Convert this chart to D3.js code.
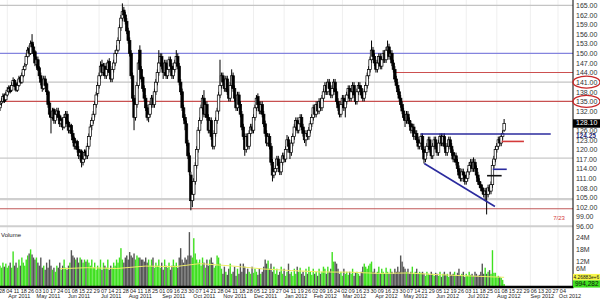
<!DOCTYPE html>
<html><head><meta charset="utf-8">
<script src="https://cdn.jsdelivr.net/npm/d3@7"></script>
<style>body{margin:0;background:#fff}svg{display:block}</style>
</head><body><svg id="c" width="600" height="299"></svg>
<script>
// ---------- DATA ----------
const startDate = "2011-03-25";
const holidays = ["2011-04-22","2011-05-30","2011-07-04","2011-09-05","2011-11-24","2011-12-26",
  "2012-01-02","2012-01-16","2012-02-20","2012-04-06","2012-05-28","2012-07-04","2012-09-03"];

const closes = [134,135,136.5,135,137,138.5,139,138,140,141.5,
140,138.5,140,142,141,143,145,146,149,151,
150,153,152,150,147,148,145,143,141,139,
142,140,138,134,131,130,132,129,131,132,
130,128,129,127,130,131,128,126,127,125,
123,121,122,120,118,119,116,117,119,118,
121,124,127,129,131,134,137,140,143,146,
144,146,143,145,147,144,142,145,147,150,
151,154,158,161,163,162,160,157,154,150,
143,136,130,134,140,147,145,142,139,136,
133,130,131,134,136,134,138,141,144,147,
149,146,144,147,143,145,148,146,143,145,
147,149,146,141,138,133,130,128,122,118,
113,104,106,110,115,120,126,129,133,136,
131,134,130,126,129,124,121,125,129,132,
137,140,143,141,139,142,138,136,140,143,
139,136,133,137,134,131,127,124,120,124,
121,125,127,126,130,133,136,134,132,134,
131,128,125,122,124,121,116,112,113,114,
117,115,113,116,118,117,120,123,121,119,
122,124,127,129,126,128,130,127,125,123,
125,124,126,128,130,133,131,134,132,135,
133,136,138,140,138,141,139,137,139,141,
138,135,133,131,134,136,133,135,137,139,
136,138,140,137,135,138,140,139,137,136,
138,140,143,145,148,151,149,147,145,147,
149,146,148,150,148,151,152,149,150,147,
145,142,140,138,136,134,132,130,129,131,
129,128,126,127,124,125,123,121,122,124,
120,117,119,121,123,120,118,121,123,121,
119,122,124,122,124,121,119,121,123,121,
119,117,118,116,114,112,111,113,112,110,
111,113,115,116,114,116,114,112,110,109,
108,107,106,107,106,108,107,109,115,117,
120,121,123,122,124,125,128.1];

const opens = [133,134.5,135,137,135.5,137,138,139.5,138.5,140,
141.5,140.5,138.5,140,142.5,141,143,145,146.5,149,
151.5,150,153.5,152,150.5,146.5,148,145.5,143,141.5,
139,142,140.5,138,134.5,131.5,130,132.5,129,131,
132,130.5,128,129.5,127,130,131,128.5,126,127.5,
125,123.5,121,122.5,120,118,119.5,116,117,119.5,
118,121,124,127.5,129,131,134,137.5,140,143,
146.5,144,146,143,145,147.5,144,142,145,147,
150,151,154,158,161,163.5,162,160,157,154,
150,143,136,130,134,140,151,145,142.5,139,
136,133,130,131,134,136,134,138,141,144,
147,149,146,144,147,143,145,148,146,143,
145,147,149,146,141,138,133,130,128,122,
118,112,104,106,110,115,120,126,129,133,
136,131,134,130,126,129,124,121,125,129,
132,137,140,143,141,139,142,138,136,140,
143,139,136,133,137,134,131,127,124,120,
124,121,125,127,126,130,133,136.5,134,132,
134,131,128,125,122,124,121,116,112,113,
114,117,115,113,116,118,117,120,123,121,
119,122,124,127,129,126,128,130,127,125,
123,125,124,126,128,130,133,131,134,132,
135,133,136,138,140,138,141,139,137,139,
141,138,135,133,131,134,136,133,135,137,
139,136,138,140,137,135,138,140,139,137,
136,138,140,143,145,148,151,149,147,145,
147,149,146,148,150,148,151,152,149,150,
147,145,142,140,138,136,134,132,130,129,
131,129,128,126,127,124,125,123,121,122,
124,120,117,119,121,123,120,118,121,123,
121,119,122,124,122,124,121,119,121,123,
121,119,117,118,116,114,112,111,113,112,
110,111,113,115,116,114,116,114,112,110,
109,108,107,106,107,106,108,107,109,115,
117,120,121,123,122,124,126];

const highs = [135,136,137.5,137.5,138,139.5,140,140,141,142.5,
142,141,141,143,143,144,146,147,150,152,
152.5,154,156,153,151,149,149,146,144,142,
143,143,141,138.5,135,132,133,133,132,133,
133,131,130,130,131,132,132,129,128,128,
126,124,123,123,121,120,120,118,120,120,
122,125,128,130,132,135,138,141,144,147.5,
148,147,147,146,148,148.5,145,146,148,151,
152.5,155,159,162,165.6,164.5,163,161,158,155,
151,144,137,135,141,148,152.5,146,143,140,
137,134,132,135,137,137,139,142,145,151,
150,150,147,148,148,146,149,149,147,146,
148,151,150,147,142,139,134,131,129,123,
119,113,107,111,116,121,127,130,134,137,
138.5,135,135,131,130,130,125,126,130,133,
138,148,144,144,142,143,143,139,141,145,
144,140,137,138,138,135,132,128,125,125,
125,126,128,128,131,134,137,137.5,135,135,
135,132,129,126,125,125,122,117,114,115,
118,118,116,117,119,119,121,124.5,124,122,
123,125,128,130,130,129,131,131,128,126,
126,126,127,129,131,134,134,135,135,136,
136,137,139,141,141,142,142,140,140,142,
142,139,136,134,135,137,137,136,138,140,
140,139,141,141,138,139,141,141,140,138,
139,141,144,146,149,154,152,150,148,148,
150,150,149,151,151,152,154,153,151,151,
148,146,143,141,139,137,135,133,131,132,
132,130,129,128,128,126,126,124,123,125,
125,121,120,122,124,124,121,122,124,124,
122,123,125,125,125,125,122,122,124,124,
122,120,119,119,117,115,113,114,114,113,
112,114,116,117,117,117.5,117,115,113,111,
110,109,108,108,108,109,109,110,116.5,118,
121,122,124,124,125,126,129.5];

const lows = [132,133.5,134.5,134.5,135,136.5,137.5,137.5,138,139.5,
139.5,138,138,139.5,140.5,140.5,142.5,144.5,146,148.5,
149,149.5,151,149,146,145.5,144.5,142,140,138,
138.5,139,137,133,130,125,129.5,128,128,130,
129,127,127,126,126.5,129,127,125,125,124,
122,120,120,119,117,116.5,114.4,115,116,117,
117,120,123,126,128,130,133,136.5,139,142,
143,143,142,142,144,143,141,141,144,146,
149,150.5,153,157,160,161,159,156,153,149,
142,135,126,129,133,139,144,141,138,135,
132,129,128.5,130,133,133,133,137,140,143,
146,145,142,143,142,142,144,145,142,142,
144,146,145,140,137,132,129,126,121,117,
112,101,102,104,109,114,119,125,128,132,
130,130,129,125,125,123,120,120,124,128,
131,136,139,140,138,138,137,135,135,139,
138,135,132,132,133,130,126,123,118,119,
120,120,124,125,125,129,132,133,131,131,
130,127,124,121,121,120,115,110,111,112,
113,114,112,112,115,116,116,119,120,117,
118,121,123,126,125,125,127,126,124,122,
121,123,123,125,127,129,130,130,131,131,
132,132,135,137,137,137,138,136,136,138,
137,134,132,130,130,133,132,130,134,136,
135,135,137,136,134,134,137,138,136,135,
135,137,139,142,144,147,148,146,144,144,
146,145,145,147,147,147,150,148,148,146,
144,141,139,137,135,133,131,129,127,128,
128,127,125,125,123,123,122,120,120,121,
119,115.6,116,118,120,119,117,117,120,120,
118,118,121,121,121,120,118,118,120,120,
118,116,116,115,113,111,110,110,111,109,
109,110,112,114,113,113,113,111,109,108,
107,106,105,104,99.7,105,106,106,108,114,
116,119,120,121,121,123,125.5];

// volume in millions
const volumes = [10,9,11.5,9.5,11,9,10,11.5,9,17,
10,11.5,9,13,10,14,11.5,10,13,15,
16,18,15.5,14,13,14,11.5,10,14,9,
10,8,11.5,9,13,10,8,9,7,10,
9,11.5,8,10,13,9,8,10,11.5,17.6,
15,14,13,14,11.5,14,13,11.5,13,12,
13,11.5,10,13,9,11.5,8,10,9,13,
8,11.5,10,9,13,8,10,9,11.5,10,
13,11.5,14,18.6,13,11.5,14,15,13,16.7,
15,14,16,13,15,14,14,13,13,12,
14,11.5,13,10,13,14,9,11.5,10,13,
9,11.5,8,13,10,9,11.5,8,10,13,
10,11.5,9,14,18.6,13,11.5,14,13,15,
26.5,15,14,23.5,16,13,11.5,13,10,14,
11.5,9,13,10,13,14,11.5,9,10,15,
14,11,8.5,6,9.5,7,5.5,8.5,11,6,
7,9.5,5,8.5,6,11,7,11,9.5,6,
8.5,7,6,9.5,6.5,8.5,7,5.5,8.5,6,
7,9.5,13,11,12.5,8.5,11,7,9.5,6,
8.5,5.5,7,9.5,6,8.5,5,7,11,6,
7,5,8.5,6,9.5,7,9,6,7,5,
8.5,6,9.5,7,5.5,8.5,6,7,5,8.5,
6,7,9.5,8.5,6,9.5,7,8.5,16.7,12,
12,11,8.5,6,7,5,8.5,6,7,5.5,
7,6,8.5,5,6.5,7,6,5,7,9.5,
11,9.5,8.5,10,11,12,7,8.5,6,7,
9.5,6,8.5,7,6,9,7,6,8.5,7,
6,8.5,7,9.5,7,15,12,9.5,8.5,7,
8.5,6,7,9.5,6,7,8.5,6,7,6.5,
7,6,5,7,6,5.5,7,6,5,6.5,
6,5,7,4.5,6,7,5.5,6,4.5,7,
5.5,6,7,5,6.5,8.5,5,6,7,4.5,
6,5,7,5.5,6,5,7,6,5,5.5,
7,11,6,9,6,7,7.8,6,17.6,6.5,
6.5,4.5,5,4.5,4,3,0.99];

// volume moving average: [tradingDayIndex, millions]
const volMA = [[41,8.5],[60,9],[80,8.6],[100,9.8],[120,9.5],[137,11],[160,9.8],[180,8.4],
  [200,7.6],[220,6.9],[240,6.8],[260,6.2],[280,6.4],[300,5.6],[320,5.0],[346,4.27]];

// 129.00 is hidden behind the last-price box in the reference
const priceTicks = [96,99,102,105,108,111,114,117,120,123,126,132,135,138,141,144,147,150,153,156,159,162,165];
const volTicks = [6,12,18,24];
const volTickLabels = ["6M","12M","18M","24M"];

const hLines = [
  {p:165, c:"#c4c4c4", w:1.3, from:null},
  {p:150, c:"#8484de", w:1.1, from:null},
  {p:144, c:"#cc5050", w:1.1, from:271},
  {p:141, c:"#c4c4c4", w:1.3, from:null},
  {p:135, c:"#c85050", w:1.1, from:null},
  {p:117.3, c:"#c8c8c8", w:1.2, from:null},
  {p:104.5, c:"#cfcfcf", w:2.2, from:null},
  {p:101.5, c:"#c05a5a", w:1.1, from:null},
  {p:96, c:"#cfcfcf", w:2, from:null}
];
const trendLines = [
  {pts:[[288.7,124.8],[378,124.8]], c:"#2b2b9e", w:1.6},
  {pts:[[291.2,115.6],[339.7,102.2]], c:"#2b2b9e", w:1.6},
  {pts:[[338.2,113.8],[347.8,113.8]], c:"#2b2b9e", w:1.6},
  {pts:[[334.3,111.8],[344.3,111.8]], c:"#111111", w:1.6},
  {pts:[[344.3,122.5],[359.6,122.5]], c:"#d43a3a", w:1.6}
];
const lastPrice = 128.10;
const linePrice = 124.25;
const circledPrices = [141, 135];
const maLabel = "4.26883e+6";
const lastVolLabel = "994,282";
const lowIndex = 334;

// ---------- CALENDAR ----------
const parse = d3.timeParse("%Y-%m-%d");
const fmtKey = d3.timeFormat("%Y-%m-%d");
const hol = new Set(holidays);
const days = [];
for (let d = parse(startDate); days.length < 400; d = d3.timeDay.offset(d, 1)) {
  const wd = d.getDay();
  if (wd === 0 || wd === 6 || hol.has(fmtKey(d))) continue;
  days.push(d);
}

// ---------- SCALES ----------
const plotR = 573;
const x = d3.scaleLinear().domain([0, 393]).range([0, 572.6]);
const y = d3.scaleLinear().domain([96, 165]).range([226.3, 5.3]);
const yv = d3.scaleLinear().domain([0, 24]).range([286, 237.2]);

const svg = d3.select("#c");
const font = "'Liberation Sans', Arial, sans-serif";

const monthStarts = [];
days.forEach((d, i) => { if (i > 0 && d.getMonth() !== days[i-1].getMonth()) monthStarts.push(i); });

svg.append("g").selectAll("line").data(monthStarts.filter(i => x(i) < plotR)).join("line")
  .attr("x1", i => x(i)).attr("x2", i => x(i)).attr("y1", 0).attr("y2", 286)
  .attr("stroke", "#efefef").attr("stroke-width", 1);

svg.append("g").selectAll("line").data(hLines).join("line")
  .attr("x1", d => d.from == null ? 0 : x(d.from)).attr("x2", plotR)
  .attr("y1", d => y(d.p)).attr("y2", d => y(d.p))
  .attr("stroke", d => d.c).attr("stroke-width", d => d.w);

// ---------- CANDLES ----------
const idx = d3.range(closes.length);
const bw = 2.5;
const cg = svg.append("g");
cg.selectAll("line").data(idx).join("line")
  .attr("x1", i => x(i)).attr("x2", i => x(i))
  .attr("y1", i => y(highs[i])).attr("y2", i => y(lows[i]))
  .attr("stroke", "#000").attr("stroke-width", 1);
cg.selectAll("rect").data(idx).join("rect")
  .attr("x", i => x(i) - bw/2).attr("width", bw)
  .attr("y", i => y(Math.max(opens[i], closes[i])))
  .attr("height", i => Math.max(0.8, Math.abs(y(opens[i]) - y(closes[i]))))
  .attr("fill", i => closes[i] >= opens[i] ? "#fff" : "#000")
  .attr("stroke", "#000").attr("stroke-width", 0.7);

svg.append("g").selectAll("line").data(trendLines).join("line")
  .attr("x1", d => x(d.pts[0][0])).attr("y1", d => y(d.pts[0][1]))
  .attr("x2", d => x(d.pts[1][0])).attr("y2", d => y(d.pts[1][1]))
  .attr("stroke", d => d.c).attr("stroke-width", d => d.w);

svg.append("text").attr("x", x(383.7)).attr("y", y(98.5)).attr("text-anchor", "middle")
  .attr("dominant-baseline", "middle").attr("font-family", font).attr("font-size", 6)
  .attr("fill", "#d43a3a").text(d3.timeFormat("%-m/%d")(days[lowIndex]));

// ---------- VOLUME ----------
svg.append("text").attr("x", 1).attr("y", 237).attr("font-family", font).attr("font-size", 6)
  .attr("fill", "#222").text("Volume");
svg.append("g").selectAll("rect").data(idx).join("rect")
  .attr("x", i => x(i) - 0.7).attr("width", 1.4)
  .attr("y", i => yv(volumes[i])).attr("height", i => yv(0) - yv(volumes[i]))
  .attr("fill", i => closes[i] >= opens[i] ? "#3fe01f" : "#555");
svg.append("path").datum(volMA)
  .attr("d", d3.line().x(d => x(d[0])).y(d => yv(d[1])))
  .attr("fill", "none").attr("stroke", "#eded6a").attr("stroke-width", 1);

svg.append("line").attr("x1", plotR).attr("x2", plotR).attr("y1", 0).attr("y2", 288)
  .attr("stroke", "#000").attr("stroke-width", 1);
svg.append("line").attr("x1", 0).attr("x2", plotR + 0.5).attr("y1", 287).attr("y2", 287)
  .attr("stroke", "#000").attr("stroke-width", 2.5);

const ra = svg.append("g").attr("transform", `translate(${plotR},0)`)
  .call(d3.axisRight(y).tickValues(priceTicks).tickFormat(d3.format(".2f")).tickSize(0).tickPadding(3));
ra.select(".domain").remove();
ra.selectAll("text").attr("font-family", font).attr("font-size", 7).attr("fill", "#333");

const va = svg.append("g").attr("transform", `translate(${plotR},0)`)
  .call(d3.axisRight(yv).tickValues(volTicks).tickFormat((d, i) => volTickLabels[i]).tickSize(0).tickPadding(3));
va.select(".domain").remove();
va.selectAll("text").attr("font-family", font).attr("font-size", 7).attr("fill", "#333")
  .attr("dy", (d) => d === 6 ? "-0.45em" : "0.32em");

svg.append("rect").attr("x", plotR).attr("y", y(lastPrice) - 4.2).attr("width", 27).attr("height", 8.4).attr("fill", "#000");
svg.append("text").attr("x", plotR + 3).attr("y", y(lastPrice)).attr("dominant-baseline", "middle")
  .attr("font-family", font).attr("font-size", 7).attr("fill", "#fff").text(d3.format(".2f")(lastPrice));
svg.append("text").attr("x", plotR + 3).attr("y", y(linePrice) + 0.5).attr("dominant-baseline", "middle")
  .attr("font-family", font).attr("font-size", 6.5).attr("fill", "#22226e").attr("font-weight", "bold")
  .text(d3.format(".2f")(linePrice));

svg.append("g").selectAll("ellipse").data(circledPrices).join("ellipse")
  .attr("cx", plotR + 13.5).attr("cy", d => y(d)).attr("rx", 13.5).attr("ry", 6)
  .attr("fill", "none").attr("stroke", "#c82828").attr("stroke-width", 1.3);

svg.append("rect").attr("x", plotR).attr("y", yv(4.27) - 3.4).attr("width", 27).attr("height", 6.8).attr("fill", "#f6f64a");
svg.append("text").attr("x", plotR + 0.6).attr("y", yv(4.27) + 0.3).attr("dominant-baseline", "middle")
  .attr("font-family", font).attr("font-size", 4.8).attr("fill", "#111").text(maLabel);
svg.append("rect").attr("x", plotR).attr("y", yv(0.99) - 3.6).attr("width", 27).attr("height", 7.2).attr("fill", "#3ee01e");
svg.append("text").attr("x", plotR + 2).attr("y", yv(0.99)).attr("dominant-baseline", "middle")
  .attr("font-family", font).attr("font-size", 6.5).attr("fill", "#111").text(lastVolLabel);

// ---------- DATE AXIS ----------
const dayTicks = d3.range(1, 394, 5).filter(i => x(i) < 566);
const da = svg.append("g").attr("transform", "translate(0,288)")
  .call(d3.axisBottom(x).tickValues(dayTicks).tickFormat(i => d3.timeFormat("%d")(days[i])).tickSize(0).tickPadding(1));
da.select(".domain").remove();
da.selectAll("text").attr("font-family", font).attr("font-size", 5.5).attr("fill", "#222");

const monthTicks = monthStarts.filter(i => x(i) + 12 < 590);
svg.append("g").selectAll("text").data(monthTicks).join("text")
  .attr("x", i => x(i) + 12).attr("y", 298).attr("text-anchor", "middle")
  .attr("font-family", font).attr("font-size", 5.5).attr("fill", "#222")
  .text(i => d3.timeFormat("%b %Y")(days[i]));
</script></body></html>
